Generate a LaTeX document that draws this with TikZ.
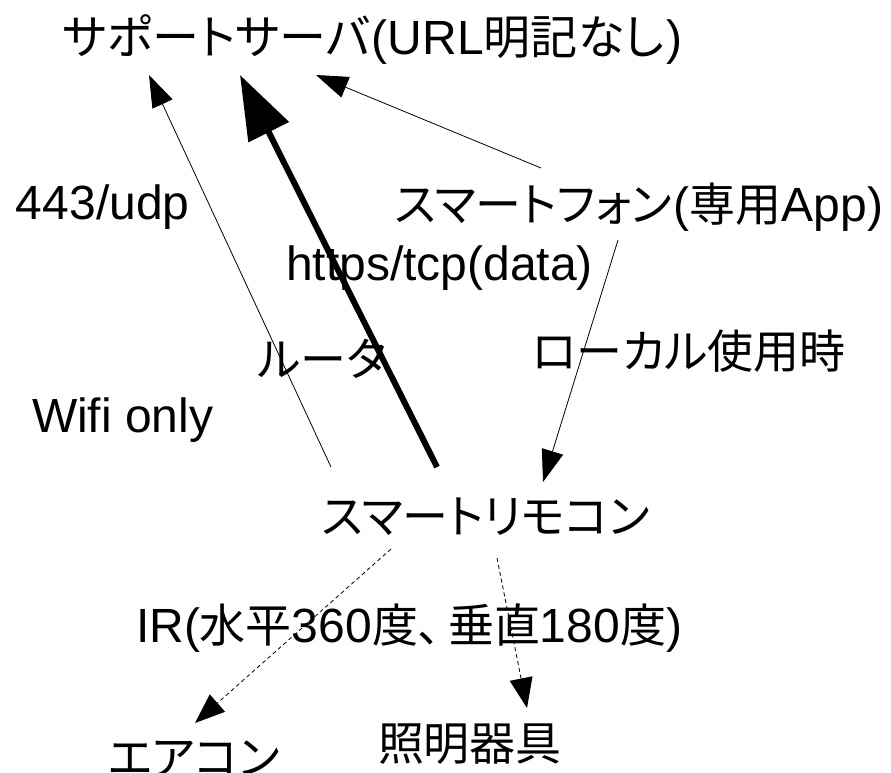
\documentclass[tikz,border=0pt]{standalone}
\usepackage{fontspec}
\setmainfont{Liberation Sans}
\newfontfamily\jp[RawFeature=+palt, Scale=0.958]{Noto Sans CJK JP}
\newfontfamily\jpt[RawFeature=+palt, Scale=0.98]{Noto Sans CJK JP}
\newcommand{\J}[1]{{\jp #1}}
\newcommand{\JT}[1]{{\jpt #1}}
\usetikzlibrary{arrows.meta}
\tikzset{
  lbl/.style={anchor=base west, inner sep=0pt, outer sep=0pt, font=\fontsize{48}{52}\selectfont},
  thinarr/.style={line width=0.8pt, -{Triangle[length=32pt,width=22pt]}},
  thickarr/.style={line width=6pt, -{Triangle[length=64pt,width=44pt]}},
  dasharr/.style={line width=0.8pt, dash pattern=on 4pt off 3pt, -{Triangle[length=30pt,width=23pt]}}
}
\begin{document}
\begin{tikzpicture}[x=1pt,y=-1pt]
\useasboundingbox (0,0) rectangle (891,773);
\node[lbl] (server) at (63,55) {\JT{サポートサーバ}\hspace{2pt}(URL\JT{明記なし}\hspace{3pt})};
\node[lbl] (udp) at (16,219) {443/udp};
\node[lbl] (phone) at (395,221) {\J{スマートフォン}\hspace{2pt}(\J{専用}App)};
\node[lbl] (https) at (286,280) {https/tcp(data)};
\node[lbl] (router) at (258,376) {\J{ルータ}};
\node[lbl] (wifi) at (32,432) {Wifi only};
\node[lbl] (local) at (532,368) {\J{ローカル使用時}};
\node[lbl] (remote) at (322,533) {\J{スマートリモコン}};
\node[lbl] (ir) at (136,642) {IR(\J{水平}360\J{度、}\hspace{7pt}\J{垂直}180\J{度})};
\node[lbl] (aircon) at (108,774) {\J{エアコン}};
\node[lbl] (light) at (378,760) {\J{照明器具}};
% connector end points
\coordinate (remote-a) at (331,467);
\coordinate (remote-b) at (437,467);
\coordinate (remote-c) at (543,482);
\coordinate (remote-d) at (391,549);
\coordinate (remote-e) at (497,558);
\coordinate (server-a) at (149,75);
\coordinate (server-b) at (240,75);
\coordinate (server-c) at (316,75);
\coordinate (phone-a) at (541,168);
\coordinate (phone-b) at (618,240);
\coordinate (aircon-a) at (195,723);
\coordinate (light-a) at (527,708);
\draw[thinarr] (remote-a) -- (server-a);
\draw[thickarr] (remote-b) -- (server-b);
\draw[thinarr] (phone-a) -- (server-c);
\draw[thinarr] (phone-b) -- (remote-c);
\draw[dasharr] (remote-d) -- (aircon-a);
\draw[dasharr] (remote-e) -- (light-a);
\end{tikzpicture}
\end{document}
